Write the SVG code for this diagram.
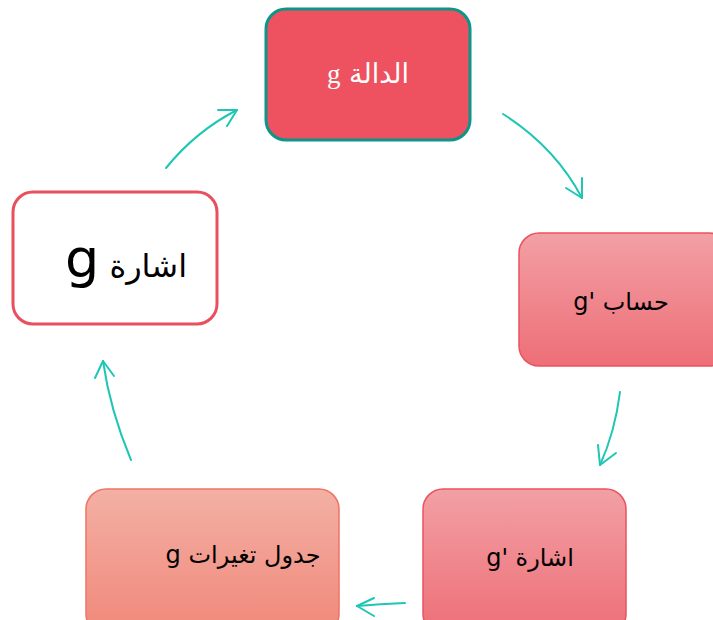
<svg xmlns="http://www.w3.org/2000/svg" width="713" height="620" viewBox="0 0 713 620">
<defs>
<linearGradient id="gPink" x1="0" y1="0" x2="0" y2="1">
<stop offset="0" stop-color="#F2A0A5"/>
<stop offset="1" stop-color="#EE6E77"/>
</linearGradient>
<linearGradient id="gSalmon" x1="0" y1="0" x2="0" y2="1">
<stop offset="0" stop-color="#F3B0A4"/>
<stop offset="1" stop-color="#F0887A"/>
</linearGradient>
<style>
.lbl{font-family:"DejaVu Sans","Liberation Sans",sans-serif;font-size:24px;fill:#000;text-anchor:middle;direction:rtl;unicode-bidi:embed}
.arr{fill:none;stroke:#1FC6B4;stroke-width:2;stroke-linecap:round;stroke-linejoin:round}
</style>
</defs>
<rect width="713" height="620" fill="#fff"/>
<g id="connectors">
<path class="arr" d="M166,168 Q196,131 237,110"/>
<path class="arr" d="M218,110 L237,110 L227,126"/>
<path class="arr" d="M503,114 Q555,147 582,198"/>
<path class="arr" d="M566,188 L582,198 L582,178"/>
<path class="arr" d="M620,392 Q615,432 600,465"/>
<path class="arr" d="M598,445 L600,465 L616,453"/>
<path class="arr" d="M405,603 Q380,604 357,606"/>
<path class="arr" d="M374,598 L357,606 L374,616"/>
<path class="arr" d="M131,460 Q110,410 103,361"/>
<path class="arr" d="M95,378 L103,361 L114,376"/>
</g>
<g id="node-g">
<rect x="266" y="9" width="204" height="131" rx="20" fill="#EE5260" stroke="#0E9488" stroke-width="3"/>
<text class="lbl" x="368" y="83" style="fill:#fff;font-size:27px">الدالة <tspan style="font-family:'Liberation Serif',serif">g</tspan></text>
</g>
<g id="node-calc">
<rect x="519" y="233" width="210" height="133" rx="20" fill="url(#gPink)" stroke="#E9535F" stroke-width="1.5"/>
<text class="lbl" x="621" y="310">حساب 'g</text>
</g>
<g id="node-sign-dg">
<rect x="423" y="489" width="203" height="145" rx="20" fill="url(#gPink)" stroke="#E9535F" stroke-width="1.5"/>
<text class="lbl" x="530" y="566">اشارة 'g</text>
</g>
<g id="node-table">
<rect x="86" y="489" width="253" height="145" rx="20" fill="url(#gSalmon)" stroke="#EE7464" stroke-width="1.5"/>
<text class="lbl" x="243" y="563">جدول تغيرات g</text>
</g>
<g id="node-sign-g">
<rect x="13" y="192" width="204" height="132" rx="20" fill="#fff" stroke="#E9505E" stroke-width="3"/>
<text class="lbl" x="126" y="277" style="font-size:32px">اشارة <tspan style="font-size:54px">g</tspan></text>
</g>
</svg>
